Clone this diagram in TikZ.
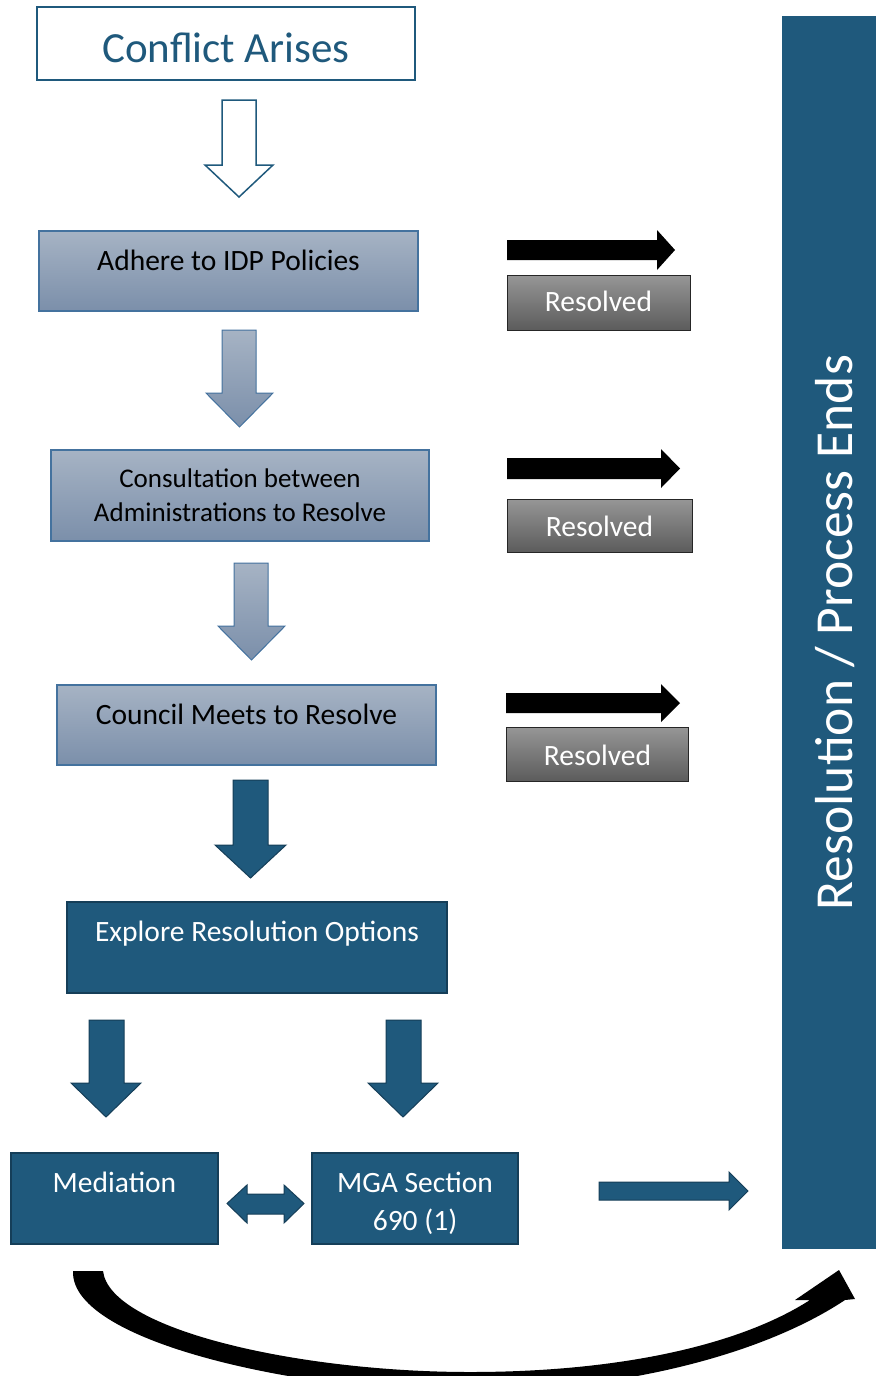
\documentclass[tikz,border=0pt]{standalone}
\usepackage{fontspec}
\setmainfont{Carlito}
\definecolor{deepblue}{RGB}{31,89,124}
\definecolor{deepedge}{RGB}{21,62,88}
\definecolor{steeltop}{RGB}{166,179,196}
\definecolor{steelbot}{RGB}{123,143,170}
\definecolor{steeledge}{RGB}{68,114,158}
\definecolor{greytop}{RGB}{150,150,150}
\definecolor{greybot}{RGB}{92,92,92}
\begin{document}
\begin{tikzpicture}[x=1pt,y=-1pt]
\tikzstyle{box}=[rectangle,inner sep=0pt,align=center]
\tikzstyle{startbox}=[box,draw=deepblue,line width=2.2pt,fill=white,text=deepblue,font=\fontsize{43}{48}\selectfont]
\tikzstyle{steelbox}=[box,draw=steeledge,line width=1.2pt,top color=steeltop,bottom color=steelbot,font=\fontsize{29.5}{34}\selectfont]
\tikzstyle{deepbox}=[box,draw=deepedge,line width=1.2pt,fill=deepblue,text=white,font=\fontsize{29.5}{38}\selectfont]
\tikzstyle{greybox}=[box,draw=black!85,line width=1pt,top color=greytop,bottom color=greybot,text=white,font=\fontsize{29.5}{34}\selectfont]
\tikzstyle{hollow}=[draw=deepblue,line width=1.5pt,fill=white]
\tikzstyle{steelarrow}=[draw=steeledge,line width=1pt,top color=steeltop,bottom color=steelbot]
\tikzstyle{deeparrow}=[draw=deepedge,line width=1pt,fill=deepblue]
\tikzstyle{blackarrow}=[fill=black]
\useasboundingbox (0,0) rectangle (876,1376);
% left column
\node[startbox] (arise) at (226,43.5) [minimum width=378pt,text height=55pt,text depth=18pt] {Conflict Arises};
\node[steelbox] (adhere) at (228.5,271) [minimum width=379pt,text height=39pt,text depth=41pt] {Adhere to IDP Policies};
\node[steelbox,font=\fontsize{27}{34}\selectfont] (consult) at (240,495.5) [minimum width=378pt,text height=71pt,text depth=20pt] {Consultation between\\Administrations to Resolve};
\node[steelbox] (council) at (246.5,725) [minimum width=379pt,text height=39pt,text depth=41pt] {Council Meets to Resolve};
\node[deepbox] (explore) at (257,947.5) [minimum width=380pt,text height=39pt,text depth=52pt] {Explore Resolution Options};
\node[deepbox] (mediation) at (114.5,1198.5) [minimum width=207pt,text height=39pt,text depth=52pt] {Mediation};
\node[deepbox] (mga) at (415,1198.5) [minimum width=206pt,text height=77pt,text depth=14pt] {MGA Section\\690 (1)};
% resolved column
\node[greybox] (res1) at (598.5,302.5) [minimum width=183pt,text height=36pt,text depth=19pt] {Resolved};
\node[greybox] (res2) at (599.5,525.5) [minimum width=185pt,text height=37pt,text depth=16pt] {Resolved};
\node[greybox] (res3) at (597.5,754) [minimum width=182pt,text height=38pt,text depth=16pt] {Resolved};
\node[box,fill=deepblue,text=white,rotate=90,font=\fontsize{53.5}{60}\selectfont] (ends) at (829,632.5) [minimum width=1233pt,text height=70pt,text depth=24pt] {Resolution / Process Ends};
% block arrows
\draw[hollow] (222,100) -- (256,100) -- (256,165) -- (273,165) -- (239,197) -- (205,165) -- (222,165) -- cycle;
\draw[steelarrow] (222,330) -- (256,330) -- (256,393) -- (273,393) -- (239.5,427) -- (206,393) -- (222,393) -- cycle;
\draw[steelarrow] (234,563) -- (268,563) -- (268,626) -- (285,626) -- (251.5,660) -- (218,626) -- (234,626) -- cycle;
\draw[deeparrow] (233,780) -- (268,780) -- (268,845) -- (286,845) -- (250.5,878) -- (215,845) -- (233,845) -- cycle;
\draw[deeparrow] (89,1020) -- (124,1020) -- (124,1083) -- (141,1083) -- (106,1117) -- (71,1083) -- (89,1083) -- cycle;
\draw[deeparrow] (386,1020) -- (421,1020) -- (421,1083) -- (438,1083) -- (403,1117) -- (368,1083) -- (386,1083) -- cycle;
\fill[blackarrow] (507,240) -- (657,240) -- (657,230) -- (675,250) -- (657,270) -- (657,260) -- (507,260) -- cycle;
\fill[blackarrow] (507,458) -- (661,458) -- (661,449) -- (680,468.5) -- (661,488) -- (661,479) -- (507,479) -- cycle;
\fill[blackarrow] (506,693) -- (661,693) -- (661,684) -- (680,703) -- (661,722) -- (661,713) -- (506,713) -- cycle;
\draw[deeparrow] (227,1203.5) -- (247,1185) -- (247,1194) -- (284,1194) -- (284,1185) -- (304,1203.5) -- (284,1223) -- (284,1214) -- (247,1214) -- (247,1223) -- cycle;
\draw[deeparrow] (599,1182) -- (729,1182) -- (729,1172) -- (748,1191) -- (729,1210) -- (729,1200) -- (599,1200) -- cycle;
% curved arrow under the options
\fill[blackarrow] (73,1271) .. controls (70,1345) and (320,1395) .. (480,1392) .. controls (640,1388) and (770,1350) .. (845,1300)
  -- (855,1299) -- (839,1270) -- (795,1300) -- (810,1300)
  .. controls (740,1345) and (620,1372) .. (470,1372) .. controls (300,1372) and (110,1330) .. (103,1271) -- cycle;
\end{tikzpicture}
\end{document}
